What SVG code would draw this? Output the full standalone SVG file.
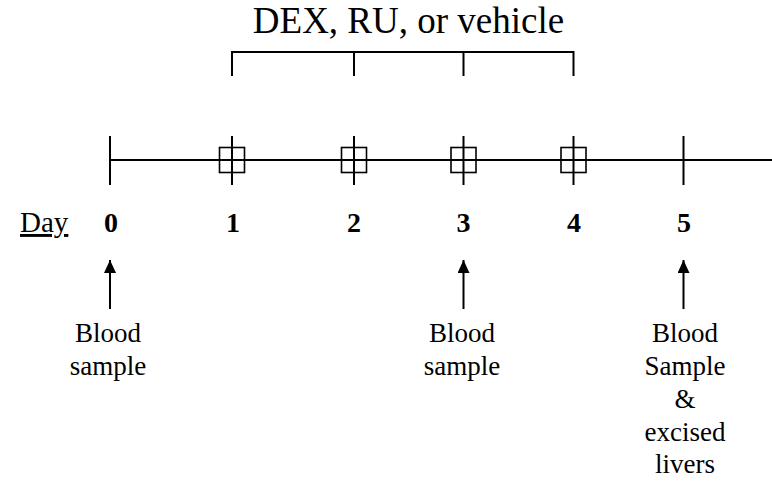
<svg xmlns="http://www.w3.org/2000/svg" width="772" height="483" viewBox="0 0 772 483">
<style>
.ln{stroke:#000;stroke-width:2;fill:none}
.bx{stroke:#000;stroke-width:1.6;fill:none}
.t{font-family:"Liberation Serif","Times New Roman",Times,serif;fill:#000}
.title{font-size:37px}
.day{font-size:28px;font-weight:bold}
.lbl{font-size:27px}
</style>
<defs>
<marker id="ah" viewBox="0 0 13 12" refX="13" refY="6" markerWidth="13" markerHeight="12" markerUnits="userSpaceOnUse" orient="auto">
<path d="M0,0 L13,6 L0,12 Z" fill="#000"/>
</marker>
</defs>
<rect width="772" height="483" fill="#fff"/>
<g id="title">
<text class="t title" x="408.5" y="33" text-anchor="middle" font-family="Liberation Serif, serif">DEX, RU, or vehicle</text>
</g>
<g id="bracket">
<path class="ln" d="M232,76 V52 H573.5 V76 M354,52 V76 M463.5,52 V76"/>
</g>
<g id="timeline">
<path class="ln" d="M110,160 H772"/>
<path class="ln" d="M110,136 V185 M232,136 V185 M354,136 V185 M463.5,136 V185 M573.5,136 V185 M683.5,136 V185"/>
<rect class="bx" x="219.5" y="147.5" width="25" height="25"/>
<rect class="bx" x="341.5" y="147.5" width="25" height="25"/>
<rect class="bx" x="451" y="147.5" width="25" height="25"/>
<rect class="bx" x="561" y="147.5" width="25" height="25"/>
</g>
<g id="days" font-family="Liberation Serif, serif">
<text class="t" x="20" y="232" font-size="29" text-decoration="underline">Day</text>
<text class="t day" x="111" y="232" text-anchor="middle">0</text>
<text class="t day" x="233" y="232" text-anchor="middle">1</text>
<text class="t day" x="354" y="232" text-anchor="middle">2</text>
<text class="t day" x="463.5" y="232" text-anchor="middle">3</text>
<text class="t day" x="574" y="232" text-anchor="middle">4</text>
<text class="t day" x="684" y="232" text-anchor="middle">5</text>
</g>
<g id="connectors">
<path class="ln" d="M110,309 V260" marker-end="url(#ah)"/>
<path class="ln" d="M463.5,309 V260" marker-end="url(#ah)"/>
<path class="ln" d="M683.5,309 V260" marker-end="url(#ah)"/>
</g>
<g id="label0" font-family="Liberation Serif, serif">
<text class="t lbl" x="108" y="342" text-anchor="middle">Blood</text>
<text class="t lbl" x="108" y="375" text-anchor="middle">sample</text>
</g>
<g id="label3" font-family="Liberation Serif, serif">
<text class="t lbl" x="462" y="342" text-anchor="middle">Blood</text>
<text class="t lbl" x="462" y="375" text-anchor="middle">sample</text>
</g>
<g id="label5" font-family="Liberation Serif, serif">
<text class="t lbl" x="685" y="342" text-anchor="middle">Blood</text>
<text class="t lbl" x="685" y="375" text-anchor="middle">Sample</text>
<text class="t lbl" x="685" y="408" text-anchor="middle">&amp;</text>
<text class="t lbl" x="685" y="441" text-anchor="middle">excised</text>
<text class="t lbl" x="685" y="473" text-anchor="middle">livers</text>
</g>
</svg>
